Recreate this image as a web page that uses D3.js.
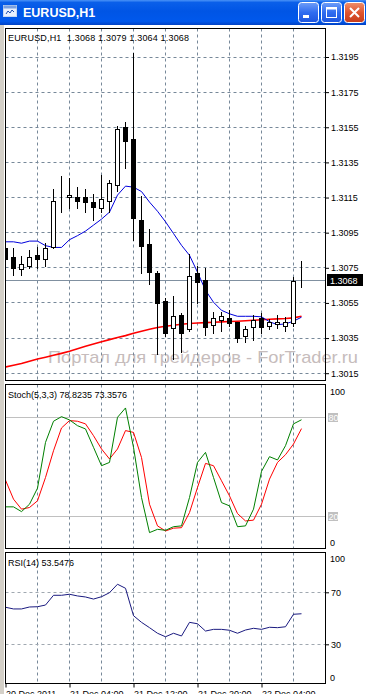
<!DOCTYPE html>
<html><head><meta charset="utf-8">
<script src="https://cdn.jsdelivr.net/npm/d3@7"></script>
<style>
body{margin:0;background:#fff;overflow:hidden}
svg{display:block;font-family:"Liberation Sans",Arial,sans-serif}
</style></head><body>
<script>
// EURUSD H1 bars
var open  = [1.3086,1.3081,1.3074,1.3076,1.3082,1.3080,1.3087,1.3114,1.3115,1.3115,1.3115,1.3112,1.3109,1.3113,1.3122,1.3155,1.3148,1.3102,1.3088,1.3072,1.3056,1.3040,1.3048,1.3040,1.3072,1.3068,1.3042,1.3045,1.3046,1.3044,1.3036,1.3041,1.3046,1.3042,1.3043,1.3042,1.3043,1.3068];
var high  = [1.3088,1.3086,1.3082,1.3085,1.3087,1.3089,1.3120,1.3127,1.3126,1.3121,1.3120,1.3117,1.3128,1.3125,1.3156,1.3158,1.3197,1.3116,1.3097,1.3073,1.3058,1.3059,1.3049,1.3083,1.3076,1.3075,1.3050,1.3050,1.3051,1.3044,1.3042,1.3048,1.3049,1.3046,1.3048,1.3047,1.3070,1.3079];
var low   = [1.3075,1.3071,1.3071,1.3075,1.3075,1.3076,1.3086,1.3107,1.3109,1.3109,1.3107,1.3102,1.3107,1.3107,1.3119,1.3132,1.3091,1.3072,1.3066,1.3026,1.3036,1.3023,1.3027,1.3039,1.3055,1.3037,1.3038,1.3039,1.3042,1.3033,1.3033,1.3034,1.3038,1.3040,1.3041,1.3039,1.3042,1.3064];
var close = [1.3080,1.3075,1.3077,1.3081,1.3080,1.3086,1.3113,1.3114,1.3116,1.3113,1.3112,1.3109,1.3114,1.3123,1.3154,1.3147,1.3103,1.3087,1.3072,1.3055,1.3038,1.3047,1.3038,1.3070,1.3067,1.3041,1.3046,1.3047,1.3043,1.3035,1.3040,1.3045,1.3041,1.3044,1.3044,1.3044,1.3067,1.3068];

var maFast = [1.30898,1.30898,1.30890,1.30902,1.30902,1.30876,1.30866,1.30866,1.30910,1.30933,1.30959,1.30993,1.31027,1.31067,1.31164,1.31215,1.31209,1.31184,1.31124,1.31072,1.31012,1.30945,1.30878,1.30821,1.30725,1.30622,1.30554,1.30508,1.30488,1.30474,1.30474,1.30474,1.30471,1.30443,1.30426,1.30431,1.30446,1.30469];
var maSlow = [1.30185,1.30195,1.30205,1.30218,1.30231,1.30241,1.30252,1.30263,1.30275,1.30289,1.30303,1.30316,1.30329,1.30341,1.30353,1.30364,1.30377,1.30389,1.30400,1.30410,1.30417,1.30423,1.30429,1.30433,1.30436,1.30438,1.30440,1.30442,1.30444,1.30446,1.30449,1.30451,1.30454,1.30457,1.30459,1.30461,1.30465,1.30474];

var stochMain   = [25.7,25.7,22.8,27.3,37.1,65,77.9,80.7,78.7,75.2,73.2,62,50.8,52.8,80.3,86,62,31.4,10,12,11.4,13.6,14.1,31.4,52.8,58.9,43.6,28.3,26.3,13.6,14.1,24.3,47.3,56.3,54.3,63,76.3,78.8];
var stochSignal = [42,30.4,24.3,25.3,29.4,43.6,59.9,73.8,78.3,77.9,76.3,69.1,61,54.9,61,72.2,71.1,55.8,27.3,14.1,11,12.7,13,22.2,37.5,52.2,50.8,41.6,32.4,21.6,17.1,17.6,27.3,42.6,52.8,57.5,64,73.4];
var rsi = [58.5,57.2,57.2,58.7,58.9,60.2,67.7,67.7,68.5,67.2,66.4,64.8,66.6,69.7,76.2,73.1,52,46.9,42.8,38.5,35.8,38.5,36.4,46.9,45.8,40.2,41.5,41.5,40.8,38.5,41,42.3,41.5,43.1,42.8,43.5,53.1,53.5];

var priceTicks = [1.3195,1.3175,1.3155,1.3135,1.3115,1.3095,1.3075,1.3055,1.3035,1.3015];
var timeBars = [0,8,16,24,32];
var timeLabels = ["20 Dec 2011","21 Dec 04:00","21 Dec 12:00","21 Dec 20:00","22 Dec 04:00"];
var gridBars = [4,8,12,16,20,24,28,32,36];
var lastPrice = 1.3068;

var W = 366, H = 694;
var L = 5.5, R = 325.5;
var main = {top: 28.5, bottom: 380.5}, sto = {top: 384.5, bottom: 548.5}, rs = {top: 552.5, bottom: 683.5};
var gridCol = "#778899";

var x = d3.scaleLinear().domain([0, 37]).range([5.5, 301.5]);
var y = d3.scaleLinear().domain([1.3015, 1.3195]).range([373.2, 57]);
var ys = d3.scaleLinear().domain([0, 100]).range([549, 385]);
var yr = d3.scaleLinear().domain([0, 100]).range([683.3, 553.3]);
var px = function(v){ return Math.round(v - 0.5) + 0.5; };

var svg = d3.select("body").append("svg").attr("width", W).attr("height", H);
var defs = svg.append("defs");

function grad(id, stops) {
    var g = defs.append("linearGradient").attr("id", id).attr("x1",0).attr("y1",0).attr("x2",0).attr("y2",1);
    stops.forEach(function(s){ g.append("stop").attr("offset", s[0]).attr("stop-color", s[1]); });
}
grad("tbar", [[0,"#4a93f7"],[0.1,"#0a5fe9"],[0.45,"#0055e5"],[0.85,"#0058ec"],[1,"#0041c4"]]);
grad("btn", [[0,"#6f9ef8"],[0.5,"#2f6cf0"],[1,"#1d55de"]]);
grad("btnx", [[0,"#f0906c"],[0.5,"#df5530"],[1,"#c63d1c"]]);

[["cMain", main], ["cSto", sto], ["cRsi", rs]].forEach(function(c){
    defs.append("clipPath").attr("id", c[0]).append("rect")
        .attr("x", L + 0.5).attr("y", c[1].top + 0.5).attr("width", R - L - 1).attr("height", c[1].bottom - c[1].top - 1);
});

// window chrome
svg.append("rect").attr("width", W).attr("height", H).attr("fill", "#fff");
svg.append("rect").attr("x", 0).attr("y", 25).attr("width", 4).attr("height", H).attr("fill", "#d4d0c8");
svg.append("rect").attr("width", W).attr("height", 25).attr("fill", "url(#tbar)");
var icon = svg.append("g").attr("transform", "translate(3,5)");
icon.append("rect").attr("x", 0.5).attr("y", 0.5).attr("width", 13).attr("height", 11).attr("fill", "#e8f0ff").attr("stroke", "#c8d8f0");
icon.append("rect").attr("x", 0.5).attr("y", 0.5).attr("width", 13).attr("height", 3).attr("fill", "#7aa0e0");
icon.append("path").attr("d", "M3,9 L5,6 L7,8 L9,5 L11,7").attr("fill", "none").attr("stroke", "#2050b0");
svg.append("text").attr("x", 23).attr("y", 17).attr("fill", "#fff").attr("font-weight", "bold")
    .attr("font-size", "12.5px").text("EURUSD,H1");

function button(bx, fill) {
    var g = svg.append("g").attr("transform", "translate(" + bx + ",2)");
    g.append("rect").attr("x", 0.5).attr("y", 0.5).attr("width", 20).attr("height", 20).attr("rx", 3)
        .attr("fill", fill).attr("stroke", "#fff");
    return g;
}
button(298, "url(#btn)").append("rect").attr("x", 5).attr("y", 13).attr("width", 6).attr("height", 3).attr("fill", "#fff");
var mx = button(321, "url(#btn)");
mx.append("rect").attr("x", 5.5).attr("y", 5.5).attr("width", 10).attr("height", 10).attr("fill", "none").attr("stroke", "#fff");
mx.append("rect").attr("x", 5).attr("y", 5).attr("width", 11).attr("height", 2.5).attr("fill", "#fff");
button(344, "url(#btnx)").append("path").attr("d", "M6,6 L15,15 M15,6 L6,15").attr("stroke", "#fff").attr("stroke-width", 2);

// watermark
svg.append("text").attr("x", 48).attr("y", 363).attr("font-size", "17px").attr("fill", "#c6bcbc")
    .attr("textLength", 310).attr("lengthAdjust", "spacingAndGlyphs")
    .text("Портал для трейдеров - ForTrader.ru");

function vgrid(g, p) {
    g.selectAll(null).data(gridBars).enter().append("line")
        .attr("x1", function(d){ return x(d); }).attr("x2", function(d){ return x(d); })
        .attr("y1", p.top).attr("y2", p.bottom)
        .attr("stroke", gridCol).attr("stroke-dasharray", "3,3");
}

// ---- main panel ----
var gm = svg.append("g").attr("clip-path", "url(#cMain)");
vgrid(gm, main);
gm.selectAll(null).data(priceTicks).enter().append("line")
    .attr("x1", L).attr("x2", R)
    .attr("y1", function(d){ return px(y(d)); }).attr("y2", function(d){ return px(y(d)); })
    .attr("stroke", gridCol).attr("stroke-dasharray", "3,3");
gm.append("line").attr("x1", L).attr("x2", R).attr("y1", px(y(lastPrice))).attr("y2", px(y(lastPrice)))
    .attr("stroke", "#8090a0");

var line = function(yy){
    return d3.line().x(function(d, i){ return x(i); }).y(function(d){ return yy(d); });
};
gm.append("path").attr("d", line(y)(maSlow)).attr("fill", "none").attr("stroke", "#ff0000").attr("stroke-width", 1.6);
gm.append("path").attr("d", line(y)(maFast)).attr("fill", "none").attr("stroke", "#0000dd").attr("stroke-width", 1);

var bars = d3.range(open.length);
var cg = gm.append("g").attr("shape-rendering", "crispEdges");
cg.selectAll(null).data(bars).enter().append("line")
    .attr("x1", function(i){ return x(i); }).attr("x2", function(i){ return x(i); })
    .attr("y1", function(i){ return Math.round(y(high[i])); }).attr("y2", function(i){ return Math.round(y(low[i])) + 1; })
    .attr("stroke", "#000");
cg.selectAll(null).data(bars).enter().append("rect")
    .attr("x", function(i){ return x(i) - 2; }).attr("width", 4)
    .attr("y", function(i){ return px(y(Math.max(open[i], close[i]))); })
    .attr("height", function(i){ return Math.max(0, Math.round(y(Math.min(open[i], close[i])) - y(Math.max(open[i], close[i])))); })
    .attr("fill", function(i){ return close[i] < open[i] ? "#000" : "#fff"; })
    .attr("stroke", "#000");

svg.append("rect").attr("x", L).attr("y", main.top).attr("width", R - L).attr("height", main.bottom - main.top)
    .attr("fill", "none").attr("stroke", "#000");

var pa = svg.append("g").attr("transform", "translate(326,0)")
    .call(d3.axisRight(y).tickValues(priceTicks).tickSize(3).tickPadding(2).tickFormat(d3.format(".4f")));
pa.select(".domain").remove();
pa.selectAll("text").attr("font-size", "9px").attr("font-family", "Liberation Sans, Arial").attr("fill", "#000");
pa.attr("font-size", null);

svg.append("rect").attr("x", 327).attr("y", px(y(lastPrice)) - 6.5).attr("width", 36).attr("height", 12).attr("fill", "#000");
svg.append("text").attr("x", 330).attr("y", px(y(lastPrice)) + 3).attr("font-size", "9px").attr("fill", "#fff")
    .text(d3.format(".4f")(lastPrice));

svg.append("text").attr("x", 8).attr("y", 41).attr("font-size", "9px").style("white-space", "pre")
    .attr("textLength", 181).attr("lengthAdjust", "spacing")
    .text("EURUSD,H1  " + [open[37], high[37], low[37], close[37]].map(d3.format(".4f")).join(" "));

// ---- stochastic panel ----
var gs = svg.append("g").attr("clip-path", "url(#cSto)");
vgrid(gs, sto);
[80, 20].forEach(function(v){
    gs.append("line").attr("x1", L).attr("x2", R).attr("y1", px(ys(v))).attr("y2", px(ys(v))).attr("stroke", "#c0c0c0");
});
gs.append("path").attr("d", line(ys)(stochSignal)).attr("fill", "none").attr("stroke", "#ff0000");
gs.append("path").attr("d", line(ys)(stochMain)).attr("fill", "none").attr("stroke", "#008000");
svg.append("rect").attr("x", L).attr("y", sto.top).attr("width", R - L).attr("height", sto.bottom - sto.top)
    .attr("fill", "none").attr("stroke", "#000");
svg.append("text").attr("x", 8).attr("y", 398).attr("font-size", "9px")
    .text("Stoch(5,3,3) " + d3.format(".4f")(78.8235) + " " + d3.format(".4f")(73.3576));
svg.append("text").attr("x", 330).attr("y", ys(100) + 10).attr("font-size", "9px").text("100");
svg.append("text").attr("x", 330).attr("y", ys(0) - 3).attr("font-size", "9px").text("0");
[80, 20].forEach(function(v){
    svg.append("rect").attr("x", 328).attr("y", px(ys(v)) - 4.5).attr("width", 10).attr("height", 9).attr("fill", "#c0c0c0");
    svg.append("text").attr("x", 328.5).attr("y", px(ys(v)) + 3).attr("font-size", "9px").attr("fill", "#fff").text(v);
});

// ---- RSI panel ----
var gr = svg.append("g").attr("clip-path", "url(#cRsi)");
vgrid(gr, rs);
[70, 30].forEach(function(v){
    gr.append("line").attr("x1", L).attr("x2", R).attr("y1", px(yr(v))).attr("y2", px(yr(v)))
        .attr("stroke", "#a0a8b0").attr("stroke-dasharray", "3,3");
});
gr.append("path").attr("d", line(yr)(rsi)).attr("fill", "none").attr("stroke", "#1a1a80");
svg.append("rect").attr("x", L).attr("y", rs.top).attr("width", R - L).attr("height", rs.bottom - rs.top)
    .attr("fill", "none").attr("stroke", "#000");
svg.append("text").attr("x", 8).attr("y", 566).attr("font-size", "9px").text("RSI(14) " + d3.format(".4f")(53.5476));
var ra = svg.append("g").attr("transform", "translate(326,0)")
    .call(d3.axisRight(yr).tickValues([70, 30]).tickSize(3).tickPadding(2));
ra.select(".domain").remove();
ra.selectAll("text").attr("font-size", "9px").attr("font-family", "Liberation Sans, Arial");
svg.append("text").attr("x", 330).attr("y", yr(100) + 9).attr("font-size", "9px").text("100");
svg.append("text").attr("x", 330).attr("y", yr(0) - 2).attr("font-size", "9px").text("0");

// time axis
var ta = svg.append("g").attr("transform", "translate(0," + rs.bottom + ")")
    .call(d3.axisBottom(x).tickValues(timeBars).tickSize(4).tickPadding(3)
        .tickFormat(function(d, i){ return timeLabels[i]; }));
ta.select(".domain").remove();
ta.selectAll("text").attr("text-anchor", "start").attr("font-size", "9px").attr("font-family", "Liberation Sans, Arial");
</script>
</body></html>
